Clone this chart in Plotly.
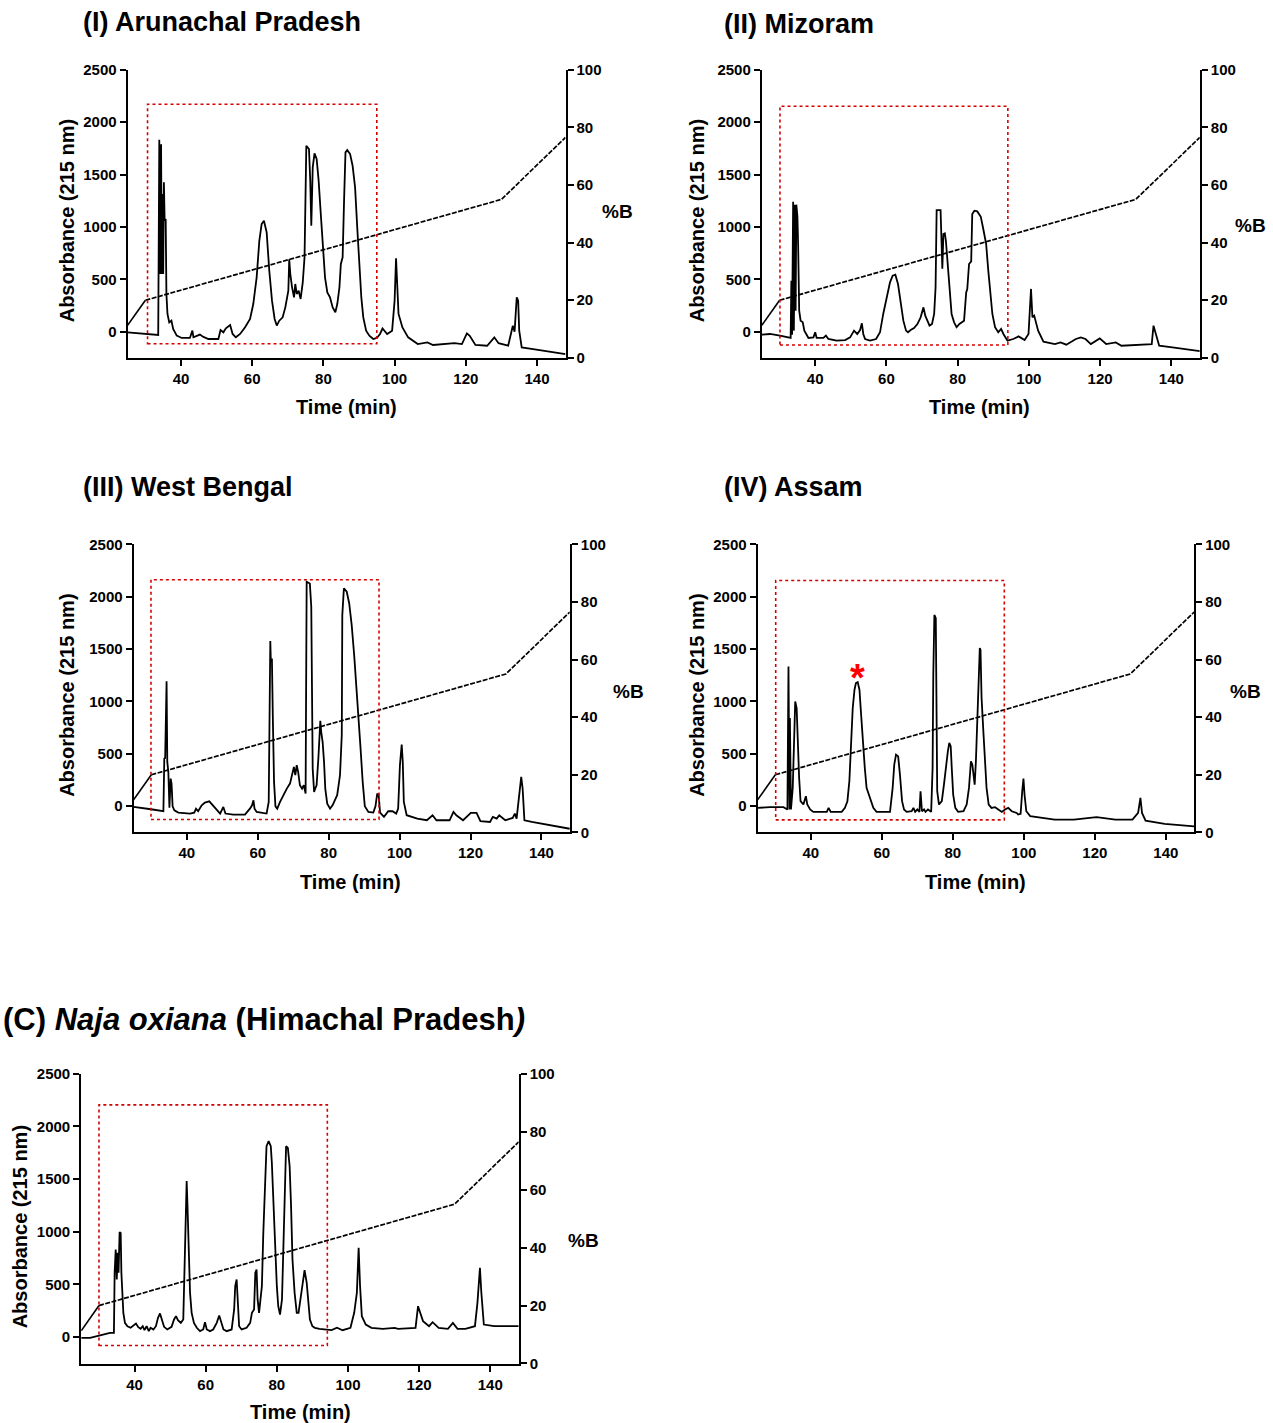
import plotly.graph_objects as go

# ---------------- data ----------------
GRAD_T = [25, 30, 130, 148]          # gradient (%B) knots, min
GRAD_B = [11.3, 20, 55, 76.5]        # %B

X_TICKS = [40, 60, 80, 100, 120, 140]
ABS_TICKS = [0, 500, 1000, 1500, 2000, 2500]
PB_TICKS = [0, 20, 40, 60, 80, 100]
X_RANGE = [25, 148]
ABS_RANGE = [-250, 2500]
PB_RANGE = [0, 100]

# (time, absorbance)
PANEL_I = [(25,-6),(28.5,-16),(30.4,-22),(32.2,-31),(33.6,-31),(33.9,1832),(34.2,550),(34.4,1790),(34.6,550),
 (34.75,1314),(35.0,550),(35.2,1425),(35.4,1060),(35.7,1075),(35.9,360),(36.2,169),(36.7,89),(37.3,105),(37.8,26),
 (38.8,-38),(40.2,-60),(42.5,-60),(43.2,10),(43.5,-54),(45.3,-28),(46.3,-50),(47.7,-70),(50.5,-70),(51.1,16),
 (51.9,-6),(52.6,32),(53.8,64),(54.5,-22),(55.4,-54),(56.6,-22),(58.0,42),(59.4,121),(60.3,264),(61.25,519),
 (62.0,868),(62.65,1027),(63.3,1059),(64.06,948),(64.8,582),(65.56,296),(66.3,121),(66.9,58),(67.6,105),(68.55,137),
 (69.3,232),(70.15,391),(70.4,690),(70.7,550),(71.2,423),(71.75,328),(72.1,455),(72.5,360),(73.05,391),(73.6,312),
 (74.2,471),(74.7,710),(75.2,1775),(75.95,1743),(76.3,1441),(76.6,1012),(77.0,1568),(77.5,1702),(78.1,1648),
 (78.66,1441),(79.2,1155),(79.8,837),(80.45,519),(81.1,375),(81.85,328),(82.6,232),(83.35,185),(83.9,264),
 (84.5,423),(84.9,646),(85.4,710),(85.8,1250),(86.2,1711),(86.7,1733),(87.5,1695),(88.2,1584),(88.9,1377),
 (89.5,996),(90.1,614),(90.65,328),(91.2,137),(92.0,10),(92.9,-38),(94.0,-70),(95.0,-60),(95.9,-22),(96.6,30),
 (97.9,-22),(99.3,10),(100.0,296),(100.4,700),(100.7,519),(101.1,169),(102.2,41),(103.8,-54),(106.5,-118),
 (109.2,-102),(110.8,-127),(115.2,-118),(116.8,-110),(118.9,-118),(120.3,-16),(121.1,-40),(122.7,-127),(126.0,-134),
 (128.0,-54),(129.2,-110),(131.9,-134),(133.2,57),(133.7,0),(134.3,328),(134.7,296),(135.0,10),(135.7,-150),
 (138.9,-166),(143.2,-188),(148,-215)]

PANEL_II = [(25,-29),(27.3,-22),(30.1,-38),(33.1,-60),(33.3,487),(33.5,-30),(33.8,1240),(34.0,10),(34.3,1212),
 (34.5,200),(34.7,1212),(35.0,1100),(35.2,837),(35.5,200),(35.9,105),(36.5,89),(36.95,10),(38.1,-60),(39.5,-54),
 (40.0,-6),(40.4,-60),(42.3,-60),(43.0,-38),(43.7,-70),(46.0,-86),(48.4,-80),(49.8,-54),(50.9,10),(51.8,-22),
 (52.6,16),(53.1,80),(53.5,-22),(54.0,-70),(55.4,-86),(57.1,-70),(58.2,-6),(59.1,169),(60.1,328),(61.0,471),
 (61.75,535),(62.5,544),(63.25,455),(64.0,264),(64.75,105),(65.5,10),(66.05,-6),(66.8,16),(67.75,35),(68.7,73),
 (69.6,137),(70.4,232),(70.9,153),(71.5,105),(72.1,58),(72.8,73),(73.4,169),(73.8,423),(74.1,1161),(75.2,1161),
 (75.4,996),(75.7,600),(76.0,932),(76.4,938),(76.7,868),(77.1,710),(77.7,423),(78.3,169),(79.0,89),(79.7,42),
 (80.5,73),(81.2,89),(81.8,105),(82.4,375),(82.7,407),(83.2,646),(83.8,671),(84.1,1123),(84.7,1155),(85.5,1148),
 (86.5,1097),(87.2,980),(88.0,837),(88.6,582),(89.2,360),(89.75,169),(90.5,42),(91.4,-6),(92.2,26),(92.85,-22),
 (94.0,-86),(95.6,-70),(97.1,-45),(98.8,-80),(99.9,-22),(100.6,408),(101.0,137),(101.5,153),(102.6,10),
 (104.1,-96),(107.3,-118),(108.9,-102),(110.5,-124),(113.2,-70),(114.6,-54),(115.9,-70),(117.4,-118),(119.9,-64),
 (121.7,-118),(124.4,-102),(126.0,-134),(130.7,-124),(134.5,-118),(135.0,57),(135.6,-22),(136.6,-134),
 (140.3,-150),(148,-185)]

PANEL_III = [(25,-6),(26.8,-13),(29.9,-29),(33.4,-48),(33.66,455),(33.9,461),(34.1,1193),(34.3,1193),(34.5,423),
 (34.8,328),(35.1,-15),(35.45,264),(35.7,216),(36.0,-1),(36.5,-39),(37.6,-61),(40.9,-70),(42.1,-61),(42.6,-23),
 (43.2,-48),(44.2,9),(45.1,35),(46.35,47),(47.3,9),(48.2,-29),(49.4,-70),(50.3,-7),(50.9,-70),(53.1,-80),
 (56.4,-80),(57.8,-23),(58.4,9),(58.8,57),(59.1,-23),(59.7,-55),(60.6,-61),(62.5,-70),(63.1,41),(63.3,1012),
 (63.55,1576),(63.7,1378),(64.0,1410),(64.3,773),(64.6,232),(65.0,-1),(65.5,-23),(66.3,41),(67.2,105),(68.2,168),
 (69.1,216),(69.7,296),(70.2,375),(70.6,296),(71.0,391),(71.4,328),(71.9,200),(72.5,168),(73.0,200),(73.5,121),
 (73.8,2142),(74.7,2126),(75.1,1904),(75.5,359),(75.9,137),(76.2,168),(76.6,200),(77.1,455),(77.4,614),
 (77.65,815),(77.9,710),(78.3,614),(78.7,423),(79.05,168),(79.6,25),(80.4,-23),(81.1,9),(81.8,57),(82.4,105),
 (82.8,200),(83.2,296),(83.7,678),(83.85,1824),(84.3,2079),(85.1,2047),(85.8,1935),(86.5,1728),(87.2,1442),
 (87.9,1123),(88.45,869),(89.0,550),(89.6,232),(90.2,-1),(91.2,-55),(92.6,-61),(93.2,-1),(93.7,121),(94.1,105),
 (94.5,-61),(95.6,-102),(96.8,-48),(98.0,-48),(99.05,-70),(99.6,-22),(100.1,392),(100.6,589),(100.9,424),
 (101.2,41),(102.0,-86),(105.0,-118),(107.7,-134),(109.3,-86),(110.4,-134),(114.1,-134),(115.2,-54),(116.0,-86),
 (117.0,-112),(117.9,-134),(120.1,-64),(121.7,-64),(122.8,-143),(125.5,-150),(126.3,-102),(127.4,-118),
 (128.1,-86),(129.8,-134),(131.9,-112),(132.5,-70),(133.0,-118),(133.9,169),(134.3,280),(134.7,169),(135.2,-134),
 (137.3,-150),(141.6,-175),(148,-215)]

PANEL_IV = [(25,-16),(28.5,-9),(32.3,-9),(33.4,-31),(33.7,1334),(34.0,-31),(34.1,842),(34.4,-31),(34.9,175),
 (35.3,778),(35.6,1000),(36.0,937),(36.3,620),(36.7,270),(37.1,48),(37.9,16),(38.6,96),(39.0,16),(39.8,-31),
 (40.7,-54),(44.5,-54),(45.0,-16),(45.6,-54),(48.7,-54),(49.6,-16),(50.3,48),(50.85,238),(51.3,620),(51.8,937),
 (52.3,1112),(52.7,1175),(53.2,1185),(53.7,1112),(54.1,905),(54.6,620),(55.2,365),(55.7,175),(56.3,111),
 (56.9,48),(57.6,-16),(58.5,-54),(62.3,-54),(63.05,175),(63.5,397),(64.0,492),(64.6,476),(65.1,302),(65.7,48),
 (66.25,-31),(67.0,-54),(68.4,-48),(68.9,-16),(69.4,-54),(70.0,-31),(70.6,-54),(70.9,143),(71.3,-48),(71.9,-31),
 (72.3,-54),(73.0,-31),(73.9,-54),(74.3,365),(74.5,1255),(74.8,1826),(75.2,1795),(75.35,937),(75.6,143),
 (76.1,16),(76.9,48),(77.5,206),(78.1,397),(78.6,524),(79.0,604),(79.4,572),(79.7,365),(80.1,111),(80.7,-16),
 (81.5,-54),(83.0,-48),(83.9,16),(84.55,175),(85.1,429),(85.5,397),(85.9,302),(86.15,206),(86.5,429),(86.9,810),
 (87.3,1032),(87.6,1509),(87.8,1493),(88.1,1032),(88.6,715),(89.1,429),(89.5,175),(90.1,16),(90.9,-16),
 (91.9,-9),(92.8,-31),(93.8,-54),(94.7,-31),(95.6,-16),(96.6,-48),(98.0,-64),(98.4,-79),(99.1,-73),(99.55,143),
 (99.9,264),(100.2,111),(100.7,-48),(101.8,-95),(105.5,-111),(108.7,-127),(114.1,-127),(120.5,-105),
 (125.8,-127),(130.6,-127),(132.2,-64),(132.85,79),(133.3,-64),(134.3,-137),(139.7,-168),(148,-192)]

PANEL_C = [(25,-6),(27.5,-6),(30.3,16),(33.1,41),(34.2,41),(34.4,611),(34.7,832),(35.0,547),(35.25,800),
 (35.5,611),(35.8,997),(36.1,990),(36.3,611),(36.6,421),(36.85,231),(37.3,136),(38.0,104),(38.9,89),(39.7,111),
 (40.4,130),(41.05,95),(41.7,79),(42.3,104),(42.8,67),(43.4,104),(44.0,57),(44.5,89),(45.3,73),(46.0,104),
 (46.6,184),(47.15,225),(47.7,168),(48.3,98),(49.2,73),(50.4,98),(51.1,168),(51.65,199),(52.2,161),(53.0,136),
 (53.7,168),(54.1,832),(54.4,1196),(54.65,1481),(54.9,1228),(55.2,927),(55.6,421),(56.05,231),(56.7,136),
 (57.5,89),(58.4,57),(59.3,73),(59.8,142),(60.3,73),(61.2,57),(62.1,73),(63.1,136),(63.8,206),(64.4,142),
 (65.0,73),(65.9,57),(67.3,73),(68.0,263),(68.3,484),(68.7,547),(69.0,358),(69.4,104),(70.1,73),(71.5,89),
 (72.5,136),(73.0,231),(73.6,263),(73.95,611),(74.3,642),(74.6,358),(75.0,231),(75.45,358),(75.8,484),
 (76.2,990),(76.7,1465),(77.1,1813),(77.7,1861),(78.3,1813),(78.6,1655),(79.0,1338),(79.5,832),(80.0,484),
 (80.4,294),(80.9,215),(81.45,358),(81.8,832),(82.2,1465),(82.6,1813),(83.1,1797),(83.6,1623),(84.0,1244),
 (84.4,737),(85.0,421),(85.6,231),(86.1,231),(86.7,373),(87.3,547),(87.8,636),(88.4,516),(88.9,326),(89.3,168),
 (90.0,104),(90.7,89),(92.0,79),(93.1,73),(94.2,73),(95.4,67),(96.9,89),(98.5,66),(100.7,89),(101.75,231),
 (102.5,421),(103.0,848),(103.4,484),(103.9,199),(105.0,120),(106.6,89),(109.8,79),(113.1,89),(114.1,79),
 (119.0,89),(119.7,294),(120.2,250),(121.1,152),(122.8,104),(123.8,142),(125.5,89),(128.1,79),(129.5,136),
 (130.8,79),(133.0,79),(135.7,104),(136.4,326),(137.1,658),(137.5,421),(138.2,120),(141.1,104),(148,104)]

# dotted boxes [t0, t1, a0, a1]
BOX_I = [30.6, 95.0, -115, 2170]
BOX_II = [30.1, 94.1, -127, 2152]
BOX_III = [29.9, 94.2, -127, 2162]
BOX_IV = [30.1, 94.5, -130, 2154]
BOX_C = [30.0, 94.2, -79, 2205]

TITLES = ["<b>(I) Arunachal Pradesh</b>", "<b>(II) Mizoram</b>", "<b>(III) West Bengal</b>",
          "<b>(IV) Assam</b>", "<b>(C) <i>Naja oxiana</i> (Himachal Pradesh<i>)</i></b>"]
ASTERISK = (53.2, 1000)   # marked peak in panel IV (anchor of the star glyph)

# ---------------- layout (pixels) ----------------
W, H = 1273, 1423
Y_OFF, Y_SCALE = 8.5, 0.989      # observed offset/scale of the rendered page
FONT = "Arial, Liberation Sans, sans-serif"

def px(p):
    return p / W

def py(p):
    return 1 - (p - Y_OFF) / (H * Y_SCALE)

PANELS = [
    dict(data=PANEL_I, box=BOX_I, xpx=(127.6, 565.5), ypx=(69.3, 357.7), title=(81, 22, 27),
         ylab=(67, 221), xlab=(346, 407), pb=(617, 211)),
    dict(data=PANEL_II, box=BOX_II, xpx=(761.8, 1199.8), ypx=(69.3, 357.7), title=(722, 24, 27),
         ylab=(697, 221), xlab=(979, 407), pb=(1250, 225)),
    dict(data=PANEL_III, box=BOX_III, xpx=(133.6, 569.8), ypx=(544.3, 832.7), title=(81, 487, 27),
         ylab=(67, 696), xlab=(350, 882), pb=(628, 692)),
    dict(data=PANEL_IV, box=BOX_IV, xpx=(757.6, 1194.2), ypx=(544.3, 832.7), title=(722, 487, 27),
         ylab=(697, 696), xlab=(975, 882), pb=(1245, 692)),
    dict(data=PANEL_C, box=BOX_C, xpx=(81.2, 518.7), ypx=(1074.3, 1364.3), title=(1, 1020, 31),
         ylab=(20, 1228), xlab=(300, 1413), pb=(583, 1241)),
]

fig = go.Figure()
layout = dict(width=W, height=H, margin=dict(l=0, r=0, t=0, b=0), paper_bgcolor="white",
              plot_bgcolor="white", showlegend=False, font=dict(family=FONT, color="black"))
annotations = []
shapes = []

axis_common = dict(showline=True, linecolor="black", linewidth=2, ticks="outside", ticklen=6,
                   tickwidth=2, tickcolor="black", showgrid=False, zeroline=False,
                   tickfont=dict(family=FONT, size=15, color="black", weight="bold"))

for i, p in enumerate(PANELS, start=1):
    xa = "x" if i == 1 else f"x{i}"
    yl_n = 2 * i - 1
    yr_n = 2 * i
    yl = "y" if yl_n == 1 else f"y{yl_n}"
    yr = f"y{yr_n}"
    xkey = "xaxis" if i == 1 else f"xaxis{i}"
    ylkey = "yaxis" if yl_n == 1 else f"yaxis{yl_n}"
    yrkey = f"yaxis{yr_n}"

    layout[xkey] = dict(axis_common, domain=[px(p["xpx"][0]), px(p["xpx"][1])], range=X_RANGE,
                        tickvals=X_TICKS, anchor=yl)
    layout[ylkey] = dict(axis_common, domain=[py(p["ypx"][1]), py(p["ypx"][0])], range=ABS_RANGE,
                         tickvals=ABS_TICKS, anchor=xa)
    layout[yrkey] = dict(axis_common, range=PB_RANGE, tickvals=PB_TICKS, anchor=xa,
                         overlaying=yl, side="right")

    t = [d[0] for d in p["data"]]
    a = [d[1] for d in p["data"]]
    # gradient: solid first segment, dashed afterwards
    fig.add_trace(go.Scatter(x=GRAD_T[:2], y=GRAD_B[:2], mode="lines", xaxis=xa, yaxis=yr,
                             line=dict(color="black", width=1.6)))
    fig.add_trace(go.Scatter(x=GRAD_T[1:], y=GRAD_B[1:], mode="lines", xaxis=xa, yaxis=yr,
                             line=dict(color="black", width=1.7, dash="5px,1.5px")))
    fig.add_trace(go.Scatter(x=t, y=a, mode="lines", xaxis=xa, yaxis=yl,
                             line=dict(color="black", width=1.8)))

    b = p["box"]
    shapes.append(dict(type="rect", xref=xa, yref=yl, x0=b[0], x1=b[1], y0=b[2], y1=b[3],
                       line=dict(color="#d40000", width=1.6, dash="dot")))

    tx, ty, ts = p["title"]
    annotations.append(dict(text=TITLES[i - 1], x=px(tx), y=py(ty), xref="paper", yref="paper",
                            xanchor="left", yanchor="middle", showarrow=False,
                            font=dict(size=ts, family=FONT, color="black")))
    annotations.append(dict(text="<b>Absorbance (215 nm)</b>", x=px(p["ylab"][0]), y=py(p["ylab"][1]),
                            xref="paper", yref="paper", xanchor="center", yanchor="middle",
                            textangle=-90, showarrow=False, font=dict(size=20, family=FONT)))
    annotations.append(dict(text="<b>Time (min)</b>", x=px(p["xlab"][0]), y=py(p["xlab"][1]),
                            xref="paper", yref="paper", xanchor="center", yanchor="middle",
                            showarrow=False, font=dict(size=20, family=FONT)))
    annotations.append(dict(text="<b>%B</b>", x=px(p["pb"][0]), y=py(p["pb"][1]),
                            xref="paper", yref="paper", xanchor="center", yanchor="middle",
                            showarrow=False, font=dict(size=19, family=FONT)))

annotations.append(dict(text="<b>*</b>", x=ASTERISK[0], y=ASTERISK[1], xref="x4", yref="y7",
                        xanchor="center", yanchor="bottom", showarrow=False,
                        font=dict(size=38, family=FONT, color="#ff0000")))

layout["annotations"] = annotations
layout["shapes"] = shapes
fig.update_layout(**layout)
fig.write_html("out.html", config={"displayModeBar": False},
               post_script="document.body.style.margin='0px';document.body.style.overflow='hidden';")
